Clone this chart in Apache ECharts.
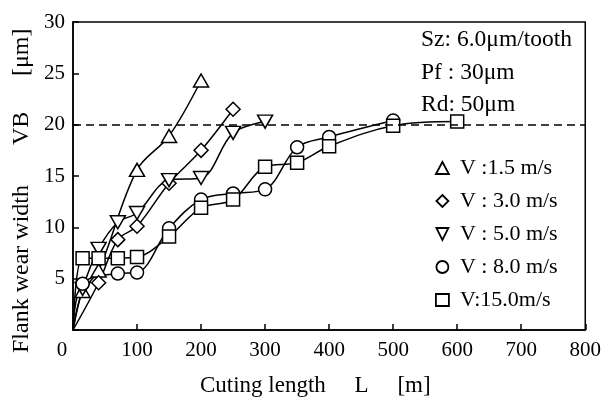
<!DOCTYPE html>
<html><head><meta charset="utf-8">
<script src="https://cdn.jsdelivr.net/npm/echarts@6/dist/echarts.min.js"></script>
<style>html,body{margin:0;padding:0;background:#fff}#c{width:604px;height:405px}</style>
</head><body><div id="c"></div>
<script>
const seriesNames = ['V :1.5 m/s', 'V : 3.0 m/s', 'V : 5.0 m/s', 'V : 8.0 m/s', 'V:15.0m/s'];
const L_v1_5 = [15, 40, 100, 150, 200];
const VB_v1_5 = [3.8, 5.8, 15.6, 18.9, 24.3];
const L_v3_0 = [40, 70, 100, 150, 200, 250];
const VB_v3_0 = [4.6, 8.8, 10.1, 14.3, 17.5, 21.5];
const L_v5_0 = [15, 40, 70, 100, 150, 200, 250, 300];
const VB_v5_0 = [4.0, 7.9, 10.5, 11.4, 14.6, 14.8, 19.2, 20.3];
const L_v8_0 = [15, 70, 100, 150, 200, 250, 300, 350, 400, 500];
const VB_v8_0 = [4.5, 5.5, 5.6, 9.9, 12.7, 13.3, 13.7, 17.8, 18.8, 20.4];
const L_v15_0 = [15, 40, 70, 100, 150, 200, 250, 300, 350, 400, 500, 600];
const VB_v15_0 = [7.0, 7.0, 7.0, 7.1, 9.1, 11.9, 12.7, 15.9, 16.3, 17.9, 19.9, 20.3];
const limitVB = 20;
const xTicks = [0, 100, 200, 300, 400, 500, 600, 700, 800];
const yTicks = [5, 10, 15, 20, 25, 30];
const notes = ['Sz: 6.0\u03bcm/tooth', 'Pf : 30\u03bcm', 'Rd: 50\u03bcm'];
const xTitle = 'Cuting length     L     [m]';
const yTitleParts = ['Flank wear width', 'VB', '[\u03bcm]'];

const FONT = '"Liberation Serif", "DejaVu Serif", serif';
const symbols = ['triangle', 'path://M0,-1L1,0L0,1L-1,0Z', 'path://M-1,-1L1,-1L0,1Z', 'circle', 'rect'];
const sizes = [[15, 13], 14, [15, 13], 13, 13];
const Ls = [L_v1_5, L_v3_0, L_v5_0, L_v8_0, L_v15_0];
const VBs = [VB_v1_5, VB_v3_0, VB_v5_0, VB_v8_0, VB_v15_0];

const series = seriesNames.map((name, i) => {
  const data = [{value: [0, 0], symbol: 'none'}].concat(Ls[i].map((x, j) => [x, VBs[i][j]]));
  const s = {
    name, type: 'line', data, smooth: 0.35,
    symbol: symbols[i], symbolSize: sizes[i],
    lineStyle: {color: '#000', width: 1.5},
    itemStyle: {color: '#fff', borderColor: '#000', borderWidth: 1.5},
    z: 3
  };
  if (i === 0) {
    s.markLine = {
      silent: true, symbol: 'none', label: {show: false},
      lineStyle: {color: '#000', type: [8, 5], width: 1.5},
      data: [{yAxis: limitVB}]
    };
  }
  return s;
});

const yTitlePos = [353, 145, 76];

const chart = echarts.init(document.getElementById('c'), null, {renderer: 'canvas'});
chart.setOption({
  backgroundColor: '#fff',
  animation: false,
  grid: {left: 73, right: 14, top: 22, bottom: 75, show: true, borderColor: '#000', borderWidth: 1.5},
  xAxis: {
    type: 'value', min: xTicks[0], max: xTicks[xTicks.length - 1], interval: 100,
    axisLine: {show: true, lineStyle: {color: '#000', width: 1.5}},
    axisTick: {show: true, inside: true, length: 6, lineStyle: {color: '#000', width: 1.5}},
    splitLine: {show: false},
    axisLabel: {color: '#000', fontFamily: FONT, fontSize: 21, margin: 10,
      formatter: v => (v === 0 ? '{z|0}' : String(v)),
      rich: {z: {fontFamily: FONT, fontSize: 21, color: '#000', padding: [0, 22, 0, 0]}}}
  },
  yAxis: {
    type: 'value', min: 0, max: yTicks[yTicks.length - 1], interval: 5,
    axisLine: {show: true, lineStyle: {color: '#000', width: 1.5}},
    axisTick: {show: true, inside: true, length: 6, lineStyle: {color: '#000', width: 1.5}},
    splitLine: {show: false},
    axisLabel: {color: '#000', fontFamily: FONT, fontSize: 21, margin: 8,
      formatter: v => (yTicks.indexOf(v) >= 0 ? String(v) : '')}
  },
  legend: {
    orient: 'vertical', left: 430, top: 152,
    itemWidth: 13, itemHeight: 12, itemGap: 11,
    data: seriesNames.map((n, i) => ({name: n, icon: symbols[i]})),
    itemStyle: {color: '#fff', borderColor: '#000', borderWidth: 1.8},
    textStyle: {color: '#000', fontFamily: FONT, fontSize: 22, padding: [0, 0, 0, 6]}
  },
  graphic: [
    ...notes.map((t, i) => ({
      type: 'text', left: 421, top: 28 + i * 32.5, silent: true,
      style: {text: t, fill: '#000', font: '23.5px ' + FONT}
    })),
    {type: 'text', left: 200, top: 374, silent: true,
     style: {text: xTitle, fill: '#000', font: '23px ' + FONT}},
    ...yTitleParts.map((t, i) => ({
      type: 'text', x: 22, y: yTitlePos[i], rotation: Math.PI / 2, silent: true,
      style: {text: t, fill: '#000', font: '24px ' + FONT, align: 'left', verticalAlign: 'middle'}
    }))
  ],
  series
});
</script></body></html>
